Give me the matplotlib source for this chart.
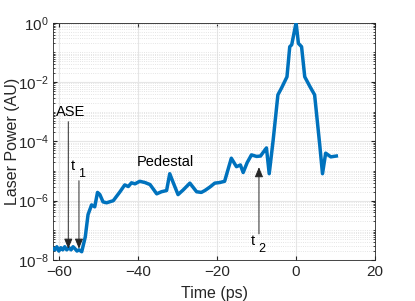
import numpy as np
import matplotlib
matplotlib.use('Agg')
import matplotlib.pyplot as plt
from matplotlib.ticker import LogLocator, NullFormatter, FixedLocator

plt.rcParams['font.family'] = ['Liberation Sans', 'DejaVu Sans']
plt.rcParams['mathtext.fontset'] = 'custom'
plt.rcParams['mathtext.rm'] = 'Liberation Sans'
plt.rcParams['mathtext.it'] = 'Liberation Sans'

# Pulse contrast trace
time_ps = [-61.5, -61.1, -60.6, -60.1, -59.6, -59.1, -58.6, -58.1, -57.5, -57.0,
           -56.5, -56.0, -55.5, -55.0, -54.3, -53.4, -52.7, -51.8, -51.0, -50.3,
           -49.7, -48.9, -48.0, -46.3, -44.6, -43.4, -42.5, -41.7, -40.8, -39.6,
           -38.3, -37.0, -36.2, -35.3, -34.1, -32.8, -32.0, -31.1, -29.9, -28.6,
           -26.9, -25.2, -24.0, -23.1, -21.8, -20.6, -19.3, -18.1, -16.4, -15.1,
           -14.1, -13.4, -12.4, -11.3, -10.0, -9.0, -7.9, -7.5, -6.8, -5.8,
           -4.6, -3.7, -2.3, -1.6, -1.1, 0.0, 0.6, 1.4, 2.2, 3.5,
           4.7, 6.0, 6.7, 7.5, 8.8, 10.2]
power_au = [2.4e-8, 2.2e-8, 2.8e-8, 2.0e-8, 2.6e-8, 2.2e-8, 2.8e-8, 2.2e-8, 2.6e-8, 2.2e-8,
            2.8e-8, 2.4e-8, 2.0e-8, 2.2e-8, 1.9e-8, 6.0e-8, 3.4e-7, 7.2e-7, 6.2e-7, 1.9e-6,
            1.6e-6, 9.1e-7, 8.5e-7, 1.0e-6, 2.0e-6, 3.4e-6, 3.0e-6, 4.0e-6, 3.7e-6, 4.5e-6,
            4.1e-6, 3.5e-6, 2.5e-6, 1.7e-6, 2.0e-6, 2.2e-6, 8.1e-6, 4.0e-6, 1.6e-6, 2.3e-6,
            3.9e-6, 2.0e-6, 1.9e-6, 2.2e-6, 2.9e-6, 3.9e-6, 4.1e-6, 4.5e-6, 2.7e-5, 1.4e-5,
            1.6e-5, 8.9e-6, 1.9e-5, 3.5e-5, 3.1e-5, 3.2e-5, 5.1e-5, 6.0e-5, 8.1e-6, 1.1e-4,
            3.7e-3, 6.2e-3, 1.5e-2, 0.155, 0.18, 1.0, 0.20, 0.155, 1.5e-2, 7.1e-3,
            3.7e-3, 7.6e-5, 8.1e-6, 4.0e-5, 3.0e-5, 3.2e-5]

x_ticks = [-60, -40, -20, 0, 20]
y_ticks = [1e-8, 1e-6, 1e-4, 1e-2, 1e0]

fig = plt.figure(figsize=(4.15, 3.01), dpi=100)
ax = fig.add_axes([53.3 / 415, 41 / 301, (375 - 53.3) / 415, (260 - 22.7) / 301])

ax.semilogy(time_ps, power_au, color='#0072BD', lw=2.5, zorder=3)

ax.set_xlim(-61.5, 20)
ax.set_ylim(1e-8, 1e0)
ax.set_xticks(x_ticks)
ax.yaxis.set_major_locator(FixedLocator(y_ticks))
ax.yaxis.set_minor_locator(LogLocator(base=10, subs=np.arange(1, 10), numticks=20))
ax.yaxis.set_minor_formatter(NullFormatter())

ax.grid(True, which='major', color='#e6e6e6', lw=0.8, ls='-', zorder=0)
ax.grid(True, which='minor', axis='y', color='#dcdcdc', lw=0.6, ls=':', zorder=0)
ax.set_axisbelow(True)

ax.tick_params(which='both', direction='in', top=True, right=True, colors='#262626',
               labelsize=11, labelcolor='#262626')
ax.tick_params(which='major', length=3)
ax.tick_params(which='minor', length=1.5)
for s in ax.spines.values():
    s.set_color('#262626')
    s.set_linewidth(0.6)

ax.set_xlabel('Time (ps)', fontsize=11.5, color='#262626', labelpad=5)
ax.set_ylabel('Laser Power (AU)', fontsize=11.5, color='#262626')
ax.yaxis.set_label_coords(-0.105, 0.5)

# annotations
arrow = dict(arrowstyle='-|>,head_length=0.6,head_width=0.25', color='#262626',
             lw=0.7, mutation_scale=10, shrinkA=0, shrinkB=0)
ax.annotate('', xy=(-57.7, 2.4e-8), xytext=(-57.7, 4.6e-4), arrowprops=arrow)
ax.annotate('', xy=(-55.0, 2.4e-8), xytext=(-55.0, 4.7e-6), arrowprops=arrow)
ax.annotate('', xy=(-9.4, 1.35e-5), xytext=(-9.4, 7.6e-8), arrowprops=arrow)

ax.text(-60.8, 9.8e-4, 'ASE', fontsize=10.5, ha='left', va='center', color='black')
ax.text(-57.2, 1.45e-5, 't', fontsize=10.5, ha='left', va='center')
ax.text(-55.2, 7.8e-6, '1', fontsize=9, ha='left', va='center')
ax.text(-33.2, 1.95e-5, 'Pedestal', fontsize=10.5, ha='center', va='center')
ax.text(-11.6, 4.4e-8, 't', fontsize=10.5, ha='left', va='center')
ax.text(-9.6, 2.4e-8, '2', fontsize=9, ha='left', va='center')

fig.savefig('out.png', dpi=100)
